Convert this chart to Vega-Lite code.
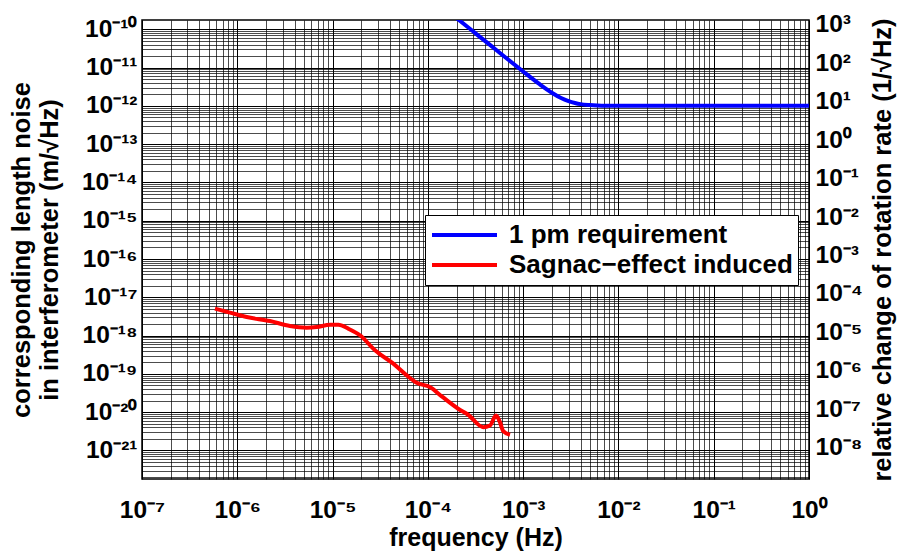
{
  "$schema": "https://vega.github.io/schema/vega-lite/v6.json",
  "autosize": "none",
  "width": 667,
  "height": 459,
  "padding": {"left": 142, "top": 20, "right": 89, "bottom": 77},
  "background": "white",
  "config": {
    "font": "Liberation Sans",
    "view": {"stroke": "black", "strokeWidth": 1.5},
    "axis": {"labelFont": "Liberation Sans", "titleFont": "Liberation Sans", "labelFontWeight": "bold", "titleFontWeight": "bold", "labelColor": "black", "titleColor": "black", "labelFontSize": 24.5, "titleFontSize": 25.5, "domain": false, "labelOverlap": false, "labelBound": false, "labelFlush": false}
  },
  "datasets": {
    "lines": [
      {"f": 0.0002, "v": 1.96e-10, "series": "1 pm requirement"},
      {"f": 0.00025, "v": 1.254e-10, "series": "1 pm requirement"},
      {"f": 0.0003, "v": 8.71e-11, "series": "1 pm requirement"},
      {"f": 0.0004, "v": 4.9e-11, "series": "1 pm requirement"},
      {"f": 0.0005, "v": 3.14e-11, "series": "1 pm requirement"},
      {"f": 0.0007, "v": 1.6e-11, "series": "1 pm requirement"},
      {"f": 0.001, "v": 7.9e-12, "series": "1 pm requirement"},
      {"f": 0.0015, "v": 3.62e-12, "series": "1 pm requirement"},
      {"f": 0.002, "v": 2.2e-12, "series": "1 pm requirement"},
      {"f": 0.0025, "v": 1.6e-12, "series": "1 pm requirement"},
      {"f": 0.003, "v": 1.33e-12, "series": "1 pm requirement"},
      {"f": 0.0035, "v": 1.19e-12, "series": "1 pm requirement"},
      {"f": 0.004, "v": 1.11e-12, "series": "1 pm requirement"},
      {"f": 0.005, "v": 1.05e-12, "series": "1 pm requirement"},
      {"f": 0.006, "v": 1.023e-12, "series": "1 pm requirement"},
      {"f": 0.008, "v": 1.007e-12, "series": "1 pm requirement"},
      {"f": 0.01, "v": 1.003e-12, "series": "1 pm requirement"},
      {"f": 0.03, "v": 1.0e-12, "series": "1 pm requirement"},
      {"f": 1, "v": 1.0e-12, "series": "1 pm requirement"},
      {"f": 5.83e-7, "v": 5.07e-18, "series": "Sagnac−effect induced"},
      {"f": 8.37e-7, "v": 3.98e-18, "series": "Sagnac−effect induced"},
      {"f": 1.256e-6, "v": 3.05e-18, "series": "Sagnac−effect induced"},
      {"f": 2.2e-6, "v": 2.4e-18, "series": "Sagnac−effect induced"},
      {"f": 3.57e-6, "v": 1.78e-18, "series": "Sagnac−effect induced"},
      {"f": 5.35e-6, "v": 1.61e-18, "series": "Sagnac−effect induced"},
      {"f": 6.81e-6, "v": 1.67e-18, "series": "Sagnac−effect induced"},
      {"f": 9.4e-6, "v": 1.93e-18, "series": "Sagnac−effect induced"},
      {"f": 1.15e-5, "v": 1.93e-18, "series": "Sagnac−effect induced"},
      {"f": 1.46e-5, "v": 1.52e-18, "series": "Sagnac−effect induced"},
      {"f": 1.94e-5, "v": 1.02e-18, "series": "Sagnac−effect induced"},
      {"f": 2.79e-5, "v": 4.12e-19, "series": "Sagnac−effect induced"},
      {"f": 4.34e-5, "v": 1.85e-19, "series": "Sagnac−effect induced"},
      {"f": 6.0e-5, "v": 9.14e-20, "series": "Sagnac−effect induced"},
      {"f": 7.62e-5, "v": 5.89e-20, "series": "Sagnac−effect induced"},
      {"f": 1.05e-4, "v": 4.52e-20, "series": "Sagnac−effect induced"},
      {"f": 1.4e-4, "v": 2.58e-20, "series": "Sagnac−effect induced"},
      {"f": 2.08e-4, "v": 1.23e-20, "series": "Sagnac−effect induced"},
      {"f": 2.65e-4, "v": 8.58e-21, "series": "Sagnac−effect induced"},
      {"f": 3.81e-4, "v": 4.07e-21, "series": "Sagnac−effect induced"},
      {"f": 4.49e-4, "v": 4.51e-21, "series": "Sagnac−effect induced"},
      {"f": 5.19e-4, "v": 8.22e-21, "series": "Sagnac−effect induced"},
      {"f": 5.71e-4, "v": 5.49e-21, "series": "Sagnac−effect induced"},
      {"f": 6.18e-4, "v": 3.2e-21, "series": "Sagnac−effect induced"},
      {"f": 7.28e-4, "v": 2.57e-21, "series": "Sagnac−effect induced"}
    ],
    "right": [{"f": 0.001, "r": 1}]
  },
  "layer": [
    {
      "data": {"name": "lines"},
      "mark": {"type": "line", "strokeWidth": 4, "clip": true, "interpolate": "monotone"},
      "encoding": {
        "x": {
          "field": "f", "type": "quantitative",
          "scale": {"type": "log", "domain": [1e-7, 1], "nice": false},
          "axis": {
            "title": "frequency (Hz)",
            "titleFontSize": 25,
            "values": [1e-7,2e-7,3e-7,4e-7,5e-7,6e-7,7e-7,8e-7,9e-7,1e-6,2e-6,3e-6,4e-6,5e-6,6e-6,7e-6,8e-6,9e-6,1e-5,2e-5,3e-5,4e-5,5e-5,6e-5,7e-5,8e-5,9e-5,1e-4,2e-4,3e-4,4e-4,5e-4,6e-4,7e-4,8e-4,9e-4,1e-3,2e-3,3e-3,4e-3,5e-3,6e-3,7e-3,8e-3,9e-3,1e-2,2e-2,3e-2,4e-2,5e-2,6e-2,7e-2,8e-2,9e-2,0.1,0.2,0.3,0.4,0.5,0.6,0.7,0.8,0.9,1],
            "labelExpr": "abs(log(datum.value)/LN10 - round(log(datum.value)/LN10)) < 1e-6 ? '10' + (round(log(datum.value)/LN10) < 0 ? '⁻' : '') + ['','¹','²'][floor(abs(round(log(datum.value)/LN10))/10)] + ['⁰','¹','²','³','⁴','⁵','⁶','⁷','⁸','⁹'][abs(round(log(datum.value)/LN10)) % 10] : ''",
            "ticks": false,
            "labelPadding": 19,
            "titlePadding": 4,
            "grid": true,
            "gridColor": "black",
            "gridWidth": 1,
            "gridOpacity": {"condition": {"test": "abs(log(datum.value)/LN10 - round(log(datum.value)/LN10)) < 1e-6", "value": 1}, "value": 0.7}
          }
        },
        "y": {
          "field": "v", "type": "quantitative",
          "scale": {"type": "log", "domain": [1.8e-22, 1.746e-10], "nice": false},
          "axis": {
            "title": ["corresponding length noise", "in interferometer (m/√Hz)"],
            "orient": "left",
            "values": [2e-22,3e-22,4e-22,5e-22,6e-22,7e-22,8e-22,9e-22,1e-21,2e-21,3e-21,4e-21,5e-21,6e-21,7e-21,8e-21,9e-21,1e-20,2e-20,3e-20,4e-20,5e-20,6e-20,7e-20,8e-20,9e-20,1e-19,2e-19,3e-19,4e-19,5e-19,6e-19,7e-19,8e-19,9e-19,1e-18,2e-18,3e-18,4e-18,5e-18,6e-18,7e-18,8e-18,9e-18,1e-17,2e-17,3e-17,4e-17,5e-17,6e-17,7e-17,8e-17,9e-17,1e-16,2e-16,3e-16,4e-16,5e-16,6e-16,7e-16,8e-16,9e-16,1e-15,2e-15,3e-15,4e-15,5e-15,6e-15,7e-15,8e-15,9e-15,1e-14,2e-14,3e-14,4e-14,5e-14,6e-14,7e-14,8e-14,9e-14,1e-13,2e-13,3e-13,4e-13,5e-13,6e-13,7e-13,8e-13,9e-13,1e-12,2e-12,3e-12,4e-12,5e-12,6e-12,7e-12,8e-12,9e-12,1e-11,2e-11,3e-11,4e-11,5e-11,6e-11,7e-11,8e-11,9e-11,1e-10],
            "labelExpr": "abs(log(datum.value)/LN10 - round(log(datum.value)/LN10)) < 1e-6 ? '10' + (round(log(datum.value)/LN10) < 0 ? '⁻' : '') + ['','¹','²'][floor(abs(round(log(datum.value)/LN10))/10)] + ['⁰','¹','²','³','⁴','⁵','⁶','⁷','⁸','⁹'][abs(round(log(datum.value)/LN10)) % 10] : ''",
            "ticks": false,
            "labelPadding": 5,
            "titlePadding": 19,
            "titleLineHeight": 28,
            "grid": true,
            "gridColor": "black",
            "gridWidth": 1,
            "gridOpacity": {"condition": {"test": "abs(log(datum.value)/LN10 - round(log(datum.value)/LN10)) < 1e-6", "value": 1}, "value": 0.7}
          }
        },
        "color": {
          "field": "series", "type": "nominal",
          "scale": {"domain": ["1 pm requirement", "Sagnac−effect induced"], "range": ["#0000ff", "#ff0000"]},
          "legend": {
            "title": null,
            "orient": "none",
            "legendX": 283,
            "legendY": 195,
            "symbolType": "stroke",
            "symbolSize": 4225,
            "symbolStrokeWidth": 4,
            "clipHeight": 30,
            "labelFont": "Liberation Sans",
            "labelFontSize": 26,
            "labelFontWeight": "bold",
            "labelColor": "black",
            "labelLimit": 500,
            "fillColor": "white",
            "strokeColor": "black",
            "padding": 5,
            "rowPadding": 0,
            "labelOffset": 10
          }
        }
      }
    },
    {
      "data": {"name": "right"},
      "mark": {"type": "point", "opacity": 0},
      "encoding": {
        "x": {"field": "f", "type": "quantitative", "scale": {"type": "log", "domain": [1e-7, 1], "nice": false}},
        "y": {
          "field": "r", "type": "quantitative",
          "scale": {"type": "log", "domain": [1.514e-9, 1349], "nice": false},
          "axis": {
            "orient": "right",
            "title": "relative change of rotation rate (1/√Hz)",
            "titleAngle": 270,
            "titleBaseline": "top",
            "values": [1e-8,1e-7,1e-6,1e-5,1e-4,1e-3,1e-2,1e-1,1,10,100,1000],
            "labelExpr": "'10' + (round(log(datum.value)/LN10) < 0 ? '⁻' : '') + ['⁰','¹','²','³','⁴','⁵','⁶','⁷','⁸','⁹'][abs(round(log(datum.value)/LN10)) % 10]",
            "ticks": false,
            "grid": false,
            "labelPadding": 6,
            "titlePadding": 8
          }
        }
      }
    }
  ],
  "resolve": {"scale": {"y": "independent"}}
}
